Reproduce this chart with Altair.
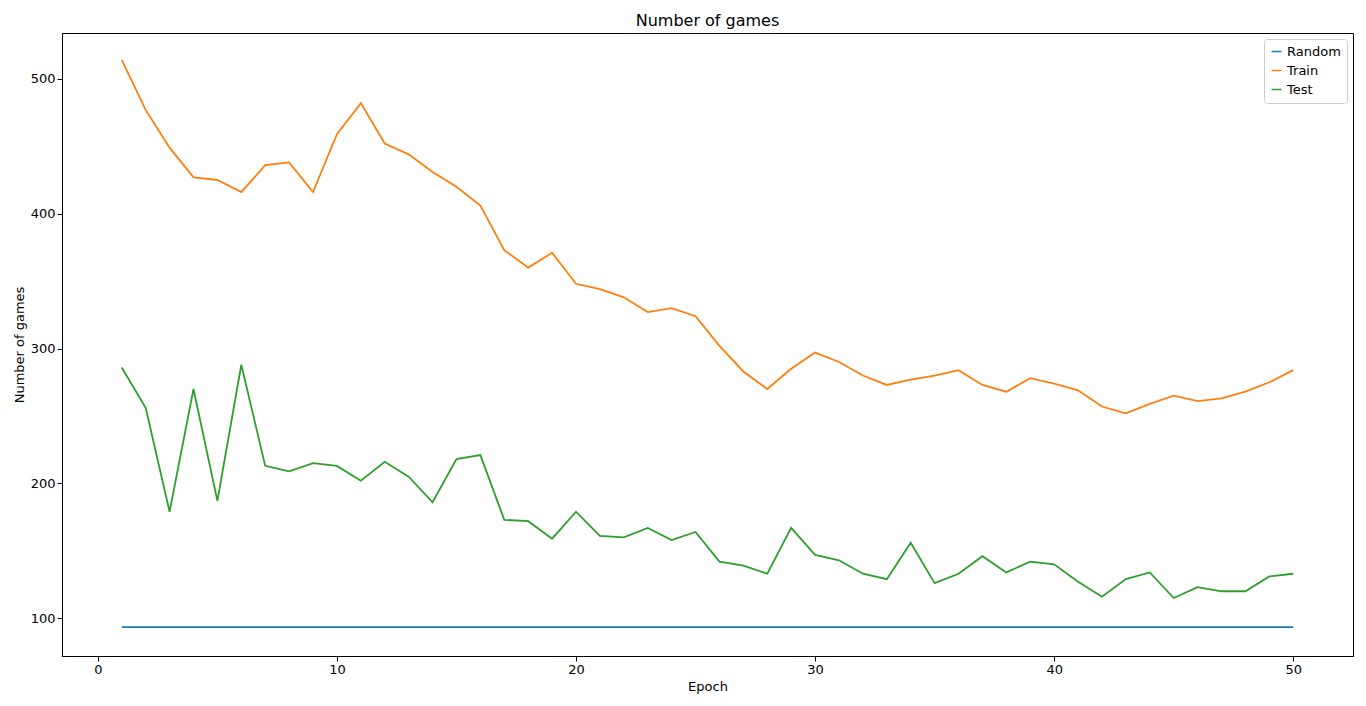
import altair as alt
import pandas as pd

epochs = list(range(1, 51))
train = [514, 477, 449, 427, 425, 416, 436, 438, 416, 459, 482, 452, 444, 431, 420,
         406, 373, 360, 371, 348, 344, 338, 327, 330, 324, 302, 283, 270, 285, 297,
         290, 280, 273, 277, 280, 284, 273, 268, 278, 274, 269, 257, 252, 259, 265,
         261, 263, 268, 275, 284]
test = [286, 256, 179, 270, 187, 288, 213, 209, 215, 213, 202, 216, 205, 186, 218,
        221, 173, 172, 159, 179, 161, 160, 167, 158, 164, 142, 139, 133, 167, 147,
        143, 133, 129, 156, 126, 133, 146, 134, 142, 140, 127, 116, 129, 134, 115,
        123, 120, 120, 131, 133]
random_line = [93.4] * 50

rows = []
for name, vals in [("Random", random_line), ("Train", train), ("Test", test)]:
    for e, v in zip(epochs, vals):
        rows.append({"epoch": e, "games": v, "series": name})
df = pd.DataFrame(rows)

chart = alt.Chart(df).mark_line(strokeWidth=1.8, clip=True).encode(
    x=alt.X("epoch:Q", title="Epoch", scale=alt.Scale(domain=[-1.5, 52.5], nice=False, zero=False),
            axis=alt.Axis(values=[0, 10, 20, 30, 40, 50], grid=False)),
    y=alt.Y("games:Q", title="Number of games", scale=alt.Scale(domain=[72, 534], nice=False, zero=False),
            axis=alt.Axis(values=[100, 200, 300, 400, 500], grid=False)),
    color=alt.Color("series:N", sort=["Random", "Train", "Test"], title=None,
                    scale=alt.Scale(domain=["Random", "Train", "Test"],
                                    range=["#1f77b4", "#ff7f0e", "#2ca02c"]),
                    legend=alt.Legend(orient="top-right", strokeColor="#cccccc", fillColor="white",
                                      padding=6, offset=6, symbolType="stroke", labelFontSize=13,
                                      cornerRadius=3, rowPadding=5)),
).properties(
    width=1350, height=690,
    title=alt.TitleParams("Number of games", fontSize=16, fontWeight="normal"),
    autosize=alt.AutoSizeParams(type="fit", contains="padding"),
).configure(font="DejaVu Sans").configure_view(stroke="black").configure_axis(
    labelFontSize=13, titleFontSize=13, titleFontWeight="normal", domainColor="black",
    tickColor="black", labelColor="black", titleColor="black"
)

chart.save("out.html", embed_options={"renderer": "svg", "actions": False})
